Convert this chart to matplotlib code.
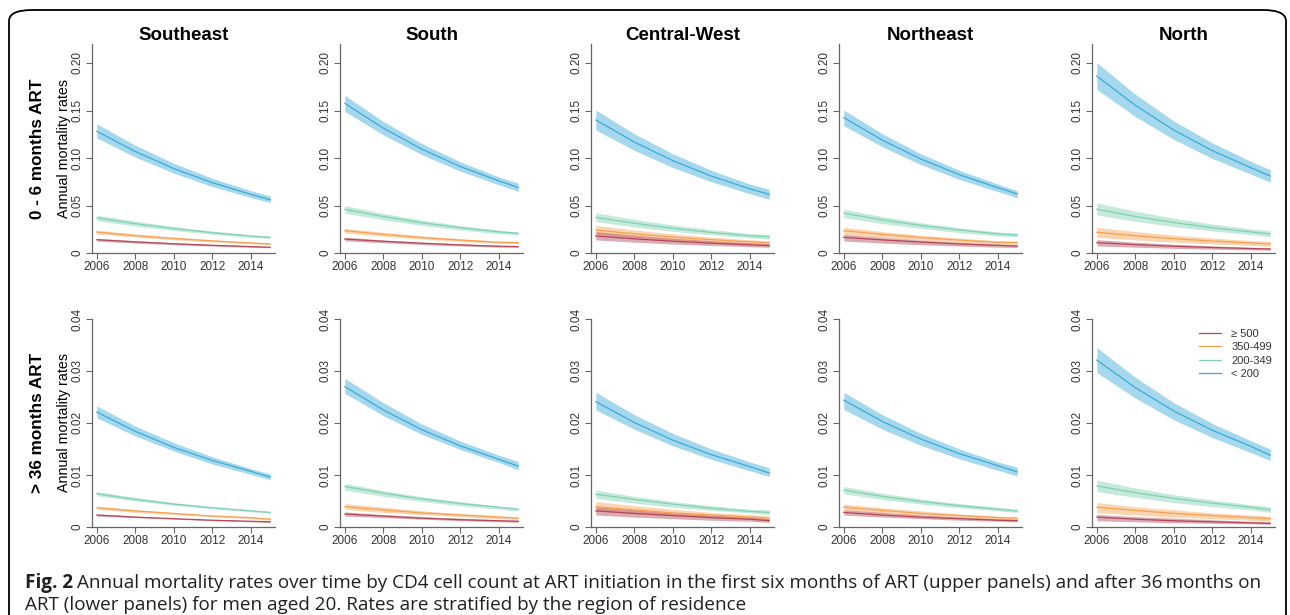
import matplotlib
matplotlib.use("Agg")
import matplotlib.pyplot as plt
from matplotlib.patches import FancyBboxPatch

plt.rcParams['font.family'] = ['Liberation Sans', 'DejaVu Sans']

years = [2006, 2008, 2010, 2012, 2014, 2015]
regions = ['Southeast', 'South', 'Central-West', 'Northeast', 'North']
groups = ['< 200', '200-349', '350-499', '\u2265 500']
line_colors = ['#3aaad8', '#7fd1b0', '#f7a150', '#b2475a']

# upper panels: 0 - 6 months ART (one row per region: SE, S, CW, NE, N)
top_lt200_mid = [[0.128, 0.1068, 0.0888, 0.0740, 0.0617, 0.056],
                 [0.1575, 0.1314, 0.1093, 0.0910, 0.0759, 0.069],
                 [0.140, 0.1168, 0.0972, 0.0809, 0.0675, 0.0618],
                 [0.1425, 0.1188, 0.0989, 0.0824, 0.0687, 0.0621],
                 [0.1863, 0.1554, 0.1293, 0.1077, 0.0898, 0.081]]
top_lt200_lo = [[0.121, 0.1009, 0.0840, 0.0699, 0.0583, 0.053],
                [0.149, 0.1243, 0.1034, 0.0861, 0.0718, 0.065],
                [0.1295, 0.108, 0.0899, 0.0749, 0.0624, 0.0565],
                [0.134, 0.1118, 0.0930, 0.0775, 0.0646, 0.0582],
                [0.1722, 0.1436, 0.1195, 0.0995, 0.0830, 0.0746]]
top_lt200_hi = [[0.136, 0.1134, 0.0944, 0.0786, 0.0656, 0.060],
                [0.166, 0.1384, 0.1152, 0.0959, 0.0800, 0.0735],
                [0.1505, 0.1255, 0.1044, 0.0870, 0.0725, 0.067],
                [0.1505, 0.1255, 0.1044, 0.0870, 0.0725, 0.0656],
                [0.2003, 0.1671, 0.1390, 0.1158, 0.0965, 0.0877]]

top_200_mid = [[0.037, 0.0309, 0.0257, 0.0214, 0.0178, 0.0165],
               [0.046, 0.0384, 0.0319, 0.0266, 0.0222, 0.0207],
               [0.0375, 0.0313, 0.0260, 0.0217, 0.0181, 0.0172],
               [0.0418, 0.0349, 0.0290, 0.0242, 0.0201, 0.019],
               [0.0461, 0.0384, 0.0320, 0.0266, 0.0222, 0.020]]
top_200_lo = [[0.034, 0.0284, 0.0236, 0.0197, 0.0164, 0.0155],
              [0.042, 0.0350, 0.0291, 0.0243, 0.0202, 0.0193],
              [0.033, 0.0275, 0.0229, 0.0191, 0.0159, 0.0147],
              [0.0372, 0.0310, 0.0258, 0.0215, 0.0179, 0.0172],
              [0.0401, 0.0334, 0.0278, 0.0232, 0.0193, 0.0173]]
top_200_hi = [[0.040, 0.0334, 0.0278, 0.0231, 0.0193, 0.0175],
              [0.050, 0.0417, 0.0347, 0.0289, 0.0241, 0.022],
              [0.0425, 0.0354, 0.0295, 0.0246, 0.0205, 0.0196],
              [0.046, 0.0384, 0.0319, 0.0266, 0.0222, 0.0208],
              [0.0528, 0.0440, 0.0366, 0.0305, 0.0254, 0.0236]]

top_350_mid = [[0.022, 0.0183, 0.0153, 0.0127, 0.0106, 0.0095],
               [0.0235, 0.0196, 0.0163, 0.0136, 0.0113, 0.011],
               [0.0242, 0.0202, 0.0168, 0.0140, 0.0117, 0.0105],
               [0.0235, 0.0196, 0.0163, 0.0136, 0.0113, 0.0109],
               [0.0218, 0.0182, 0.0151, 0.0126, 0.0105, 0.0095]]
top_350_lo = [[0.020, 0.0167, 0.0139, 0.0116, 0.0096, 0.0088],
              [0.021, 0.0175, 0.0146, 0.0121, 0.0101, 0.0099],
              [0.0196, 0.0163, 0.0136, 0.0113, 0.0094, 0.0088],
              [0.0196, 0.0163, 0.0136, 0.0113, 0.0094, 0.0093],
              [0.0165, 0.0138, 0.0115, 0.0095, 0.0080, 0.007]]
top_350_hi = [[0.024, 0.0200, 0.0167, 0.0139, 0.0116, 0.0102],
              [0.026, 0.0217, 0.0180, 0.0150, 0.0125, 0.012],
              [0.029, 0.0242, 0.0201, 0.0168, 0.0140, 0.013],
              [0.027, 0.0225, 0.0187, 0.0156, 0.0130, 0.0125],
              [0.0271, 0.0226, 0.0188, 0.0157, 0.0131, 0.0123]]

top_500_mid = [[0.014, 0.0117, 0.0097, 0.0081, 0.0067, 0.006],
               [0.0147, 0.0123, 0.0102, 0.0085, 0.0071, 0.0067],
               [0.0179, 0.0149, 0.0124, 0.0103, 0.0086, 0.0077],
               [0.0165, 0.0138, 0.0115, 0.0095, 0.0080, 0.0074],
               [0.0109, 0.0088, 0.0071, 0.0058, 0.0047, 0.0042]]
top_500_lo = [[0.0125, 0.0104, 0.0087, 0.0072, 0.0060, 0.0054],
              [0.0128, 0.0107, 0.0089, 0.0074, 0.0062, 0.006],
              [0.0137, 0.0114, 0.0095, 0.0079, 0.0066, 0.006],
              [0.0126, 0.0105, 0.0087, 0.0073, 0.0061, 0.0058],
              [0.0075, 0.0061, 0.0049, 0.0040, 0.0032, 0.003]]
top_500_hi = [[0.0155, 0.0129, 0.0108, 0.0090, 0.0075, 0.0066],
              [0.0166, 0.0138, 0.0115, 0.0096, 0.0080, 0.0074],
              [0.0225, 0.0188, 0.0156, 0.0130, 0.0108, 0.0097],
              [0.0196, 0.0163, 0.0136, 0.0113, 0.0094, 0.0088],
              [0.0141, 0.0114, 0.0092, 0.0075, 0.0060, 0.0055]]

# lower panels: > 36 months ART
bot_lt200_mid = [[0.0221, 0.0184, 0.0153, 0.0128, 0.0107, 0.0096],
                 [0.027, 0.0225, 0.0187, 0.0156, 0.0130, 0.0117],
                 [0.0241, 0.0201, 0.0167, 0.0139, 0.0116, 0.0104],
                 [0.0244, 0.0203, 0.0169, 0.0141, 0.0118, 0.0106],
                 [0.0321, 0.0268, 0.0223, 0.0186, 0.0155, 0.0138]]
bot_lt200_lo = [[0.021, 0.0175, 0.0146, 0.0121, 0.0101, 0.0091],
                [0.0257, 0.0214, 0.0178, 0.0149, 0.0124, 0.011],
                [0.0225, 0.0188, 0.0156, 0.0130, 0.0108, 0.0097],
                [0.0226, 0.0188, 0.0157, 0.0131, 0.0109, 0.0098],
                [0.0297, 0.0248, 0.0206, 0.0172, 0.0143, 0.0128]]
bot_lt200_hi = [[0.0233, 0.0194, 0.0162, 0.0135, 0.0112, 0.0102],
                [0.0286, 0.0239, 0.0198, 0.0165, 0.0138, 0.0126],
                [0.0259, 0.0216, 0.0180, 0.0150, 0.0125, 0.0114],
                [0.0259, 0.0216, 0.0180, 0.0150, 0.0125, 0.0115],
                [0.0345, 0.0288, 0.0239, 0.0199, 0.0166, 0.015]]

bot_200_mid = [[0.0064, 0.0053, 0.0044, 0.0037, 0.0031, 0.0028],
               [0.0078, 0.0065, 0.0054, 0.0045, 0.0038, 0.0034],
               [0.0063, 0.0053, 0.0044, 0.0036, 0.0030, 0.0028],
               [0.0071, 0.0059, 0.0049, 0.0041, 0.0034, 0.0031],
               [0.0079, 0.0066, 0.0055, 0.0046, 0.0038, 0.0033]]
bot_200_lo = [[0.006, 0.0050, 0.0042, 0.0035, 0.0029, 0.0026],
              [0.0071, 0.0059, 0.0049, 0.0041, 0.0034, 0.0031],
              [0.0055, 0.0046, 0.0038, 0.0032, 0.0027, 0.0024],
              [0.0064, 0.0053, 0.0044, 0.0037, 0.0031, 0.0028],
              [0.0068, 0.0057, 0.0047, 0.0039, 0.0033, 0.0028]]
bot_200_hi = [[0.0068, 0.0057, 0.0047, 0.0039, 0.0033, 0.003],
              [0.0084, 0.0070, 0.0058, 0.0049, 0.0040, 0.0037],
              [0.0071, 0.0059, 0.0049, 0.0041, 0.0034, 0.0033],
              [0.0078, 0.0065, 0.0054, 0.0045, 0.0038, 0.0034],
              [0.009, 0.0075, 0.0062, 0.0052, 0.0043, 0.0039]]

bot_350_mid = [[0.0037, 0.0031, 0.0026, 0.0021, 0.0018, 0.0015],
               [0.0039, 0.0033, 0.0027, 0.0023, 0.0019, 0.0017],
               [0.0039, 0.0033, 0.0027, 0.0023, 0.0019, 0.0017],
               [0.0038, 0.0032, 0.0026, 0.0022, 0.0018, 0.0017],
               [0.0038, 0.0032, 0.0026, 0.0022, 0.0018, 0.0016]]
bot_350_lo = [[0.0034, 0.0028, 0.0024, 0.0020, 0.0016, 0.0013],
              [0.0034, 0.0028, 0.0024, 0.0020, 0.0016, 0.0015],
              [0.0031, 0.0026, 0.0022, 0.0018, 0.0015, 0.0012],
              [0.0032, 0.0027, 0.0022, 0.0018, 0.0015, 0.0014],
              [0.0028, 0.0023, 0.0019, 0.0016, 0.0013, 0.0012]]
bot_350_hi = [[0.004, 0.0033, 0.0028, 0.0023, 0.0019, 0.0017],
              [0.0045, 0.0038, 0.0031, 0.0026, 0.0022, 0.0019],
              [0.0049, 0.0041, 0.0034, 0.0028, 0.0024, 0.0021],
              [0.0044, 0.0037, 0.0031, 0.0025, 0.0021, 0.0019],
              [0.0047, 0.0039, 0.0033, 0.0027, 0.0023, 0.0021]]

bot_500_mid = [[0.0023, 0.0019, 0.0016, 0.0013, 0.0011, 0.001],
               [0.0025, 0.0021, 0.0017, 0.0014, 0.0012, 0.0011],
               [0.0031, 0.0026, 0.0022, 0.0018, 0.0015, 0.0012],
               [0.0028, 0.0023, 0.0019, 0.0016, 0.0013, 0.0012],
               [0.0019, 0.0015, 0.0012, 0.0010, 0.0008, 0.0007]]
bot_500_lo = [[0.0021, 0.0018, 0.0015, 0.0012, 0.0010, 0.0009],
              [0.0021, 0.0018, 0.0015, 0.0012, 0.0010, 0.0009],
              [0.0023, 0.0019, 0.0016, 0.0013, 0.0011, 0.0009],
              [0.0023, 0.0019, 0.0016, 0.0013, 0.0011, 0.001],
              [0.0012, 0.0010, 0.0008, 0.0007, 0.0006, 0.0005]]
bot_500_hi = [[0.0025, 0.0021, 0.0017, 0.0014, 0.0012, 0.0011],
              [0.0029, 0.0024, 0.0020, 0.0017, 0.0014, 0.0013],
              [0.0039, 0.0033, 0.0027, 0.0023, 0.0019, 0.0016],
              [0.0033, 0.0028, 0.0023, 0.0019, 0.0016, 0.0015],
              [0.0024, 0.0020, 0.0017, 0.0014, 0.0011, 0.001]]

rows = [
    dict(label='0 - 6 months ART', ylim=0.22, yticks=[0, 0.05, 0.10, 0.15, 0.20],
         ytl=['0', '0.05', '0.10', '0.15', '0.20'], top=44, bottom=253,
         series=[(top_lt200_mid, top_lt200_lo, top_lt200_hi),
                 (top_200_mid, top_200_lo, top_200_hi),
                 (top_350_mid, top_350_lo, top_350_hi),
                 (top_500_mid, top_500_lo, top_500_hi)]),
    dict(label='> 36 months ART', ylim=0.04, yticks=[0, 0.01, 0.02, 0.03, 0.04],
         ytl=['0', '0.01', '0.02', '0.03', '0.04'], top=319, bottom=527,
         series=[(bot_lt200_mid, bot_lt200_lo, bot_lt200_hi),
                 (bot_200_mid, bot_200_lo, bot_200_hi),
                 (bot_350_mid, bot_350_lo, bot_350_hi),
                 (bot_500_mid, bot_500_lo, bot_500_hi)]),
]

W, H = 1290, 615
fig = plt.figure(figsize=(W / 100, H / 100), dpi=100)
lefts = [92, 340, 591, 839, 1092]
aw = 183

for r, row in enumerate(rows):
    for c, reg in enumerate(regions):
        ax = fig.add_axes([lefts[c] / W, 1 - row['bottom'] / H, aw / W,
                           (row['bottom'] - row['top']) / H])
        handles = []
        for g, (mid, lo, hi) in enumerate(row['series']):
            ax.fill_between(years, lo[c], hi[c], color=line_colors[g],
                            alpha=0.45, lw=0)
            ln, = ax.plot(years, mid[c], color=line_colors[g], lw=0.9)
            handles.append(ln)
        ax.set_xlim(2005.75, 2015.25)
        ax.set_ylim(0, row['ylim'])
        ax.set_xticks([2006, 2008, 2010, 2012, 2014])
        ax.set_yticks(row['yticks'])
        ax.set_yticklabels(row['ytl'], rotation=90, va='center')
        for s in ['top', 'right']:
            ax.spines[s].set_visible(False)
        for s in ['left', 'bottom']:
            ax.spines[s].set_color('#666666')
            ax.spines[s].set_linewidth(0.9)
        ax.tick_params(colors='#666666', labelcolor='#333333', labelsize=8.5,
                       length=4, width=0.8, pad=2)
        if r == 0:
            ax.set_title(reg, fontsize=13.5, fontweight='bold', pad=3)
        if c == 0:
            yc = 1 - (row['top'] + row['bottom']) / 2 / H
            fig.text(64 / W, yc, 'Annual mortality rates', rotation=90,
                     fontsize=10.3, ha='center', va='center')
            fig.text(38 / W, yc, row['label'], rotation=90, fontsize=12.3,
                     fontweight='bold', ha='center', va='center')
        if r == 1 and c == 4:
            order = [3, 2, 1, 0]
            ax.legend([handles[i] for i in order], [groups[i] for i in order],
                      frameon=False, fontsize=8, loc='upper left',
                      bbox_to_anchor=(0.53, 1.0), handlelength=2.0,
                      handletextpad=0.9, labelspacing=0.3, labelcolor='#333333')

# frame around the figure
box = FancyBboxPatch((9 / W, -30 / H), 1277 / W, (605 + 30) / H,
                     boxstyle='round,pad=0,rounding_size=0.018',
                     transform=fig.transFigure, fill=False, ec='black', lw=1.3)
fig.patches.append(box)

# caption
cap_font = ['Open Sans', 'DejaVu Sans']
cap_size = 13.6
t1 = fig.text(25 / W, 1 - 583 / H, 'Fig. 2', family=cap_font, fontweight='bold',
              fontsize=cap_size, va='center', color='#231f20')
fig.canvas.draw()
bb = t1.get_window_extent()
fig.text((bb.x1 + 4) / W, 1 - 583 / H,
         'Annual mortality rates over time by CD4 cell count at ART initiation in the '
         'first six months of ART (upper panels) and after 36\u2009months on',
         family=cap_font, fontsize=cap_size, va='center', color='#231f20')
fig.text(25 / W, 1 - 605 / H,
         'ART (lower panels) for men aged 20. Rates are stratified by the region of residence',
         family=cap_font, fontsize=cap_size, va='center', color='#231f20')

fig.savefig('out.png', dpi=100)
